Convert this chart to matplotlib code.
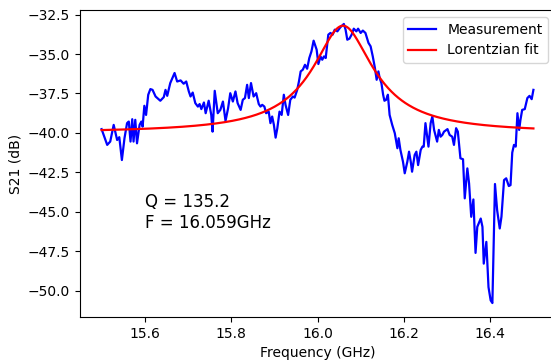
import numpy as np
import matplotlib
matplotlib.use("Agg")
import matplotlib.pyplot as plt

# measured transmission (GHz, dB)
freq = [15.500, 15.513, 15.520, 15.528, 15.536, 15.541, 15.547, 15.553, 15.559, 15.563,
        15.567, 15.571, 15.574, 15.578, 15.582, 15.588, 15.592, 15.595, 15.599, 15.603,
        15.608, 15.613, 15.618, 15.625, 15.636, 15.644, 15.648, 15.652, 15.659, 15.669,
        15.675, 15.683, 15.690, 15.696, 15.702, 15.706, 15.711, 15.717, 15.723, 15.727,
        15.731, 15.737, 15.741, 15.748, 15.754, 15.757, 15.762, 15.769, 15.775, 15.781,
        15.787, 15.793, 15.798, 15.804, 15.810, 15.815, 15.822, 15.827, 15.832, 15.837,
        15.841, 15.846, 15.852, 15.858, 15.864, 15.868, 15.872, 15.877, 15.881, 15.887,
        15.891, 15.895, 15.899, 15.903, 15.907, 15.912, 15.917, 15.922, 15.926, 15.932,
        15.937, 15.943, 15.947, 15.953, 15.957, 15.961, 15.966, 15.971, 15.976, 15.981,
        15.986, 15.991, 15.998, 16.002, 16.007, 16.011, 16.015, 16.019, 16.025, 16.030,
        16.035, 16.040, 16.046, 16.053, 16.061, 16.065, 16.069, 16.074, 16.079, 16.084,
        16.090, 16.094, 16.100, 16.105, 16.111, 16.118, 16.123, 16.128, 16.133, 16.137,
        16.141, 16.144, 16.148, 16.152, 16.155, 16.159, 16.163, 16.167, 16.173, 16.179,
        16.185, 16.188, 16.192, 16.198, 16.202, 16.208, 16.212, 16.216, 16.219, 16.225,
        16.229, 16.233, 16.239, 16.243, 16.246, 16.250, 16.257, 16.262, 16.266, 16.270,
        16.273, 16.277, 16.281, 16.285, 16.289, 16.293, 16.301, 16.306, 16.312, 16.316,
        16.321, 16.325, 16.331, 16.337, 16.341, 16.347, 16.351, 16.356, 16.361, 16.366,
        16.370, 16.378, 16.382, 16.385, 16.391, 16.396, 16.401, 16.405, 16.411, 16.416,
        16.422, 16.426, 16.432, 16.437, 16.443, 16.447, 16.451, 16.455, 16.459, 16.463,
        16.467, 16.470, 16.474, 16.480, 16.486, 16.491, 16.496, 16.500]
s21 = [-39.76, -40.76, -40.55, -39.49, -40.45, -40.27, -41.72, -40.34, -39.38, -39.28,
       -40.55, -39.13, -40.55, -39.17, -40.66, -39.49, -39.28, -39.60, -38.28, -38.86,
       -37.58, -37.22, -37.27, -37.69, -37.96, -37.73, -37.27, -37.65, -36.84, -36.20,
       -36.74, -36.67, -36.88, -36.74, -37.37, -37.69, -37.44, -38.11, -38.33, -38.17,
       -38.49, -38.07, -38.75, -37.96, -38.86, -39.92, -37.33, -38.75, -38.54, -38.01,
       -39.24, -38.43, -37.48, -38.01, -37.37, -38.11, -38.54, -37.90, -37.79, -36.95,
       -37.79, -36.84, -37.69, -37.48, -38.17, -38.33, -38.22, -38.33, -38.75, -38.65,
       -39.38, -38.96, -39.49, -40.30, -39.70, -38.65, -38.86, -37.58, -38.22, -38.86,
       -37.90, -37.69, -37.76, -37.27, -36.74, -36.10, -35.99, -35.68, -35.93, -35.25,
       -34.83, -34.15, -34.72, -35.63, -35.15, -35.36, -35.15, -35.25, -33.77, -33.66,
       -33.77, -33.45, -33.56, -33.30, -33.09, -33.45, -34.09, -34.02, -33.77, -33.39,
       -33.56, -33.39, -33.66, -33.51, -33.66, -34.29, -34.51, -35.15, -35.89, -36.63,
       -36.10, -36.52, -36.84, -37.58, -37.96, -37.90, -37.58, -38.86, -39.49, -40.02,
       -40.97, -40.34, -41.08, -41.83, -42.56, -41.83, -41.19, -41.83, -42.46, -41.40,
       -41.19, -42.04, -41.08, -40.87, -40.87, -39.38, -40.87, -39.38, -38.96, -39.81,
       -40.13, -40.55, -39.81, -40.24, -40.13, -39.92, -39.76, -40.13, -40.24, -40.76,
       -39.70, -39.92, -41.61, -41.67, -44.15, -42.25, -43.20, -45.32, -44.22, -47.61,
       -45.96, -45.43, -45.96, -48.29, -46.91, -49.78, -50.62, -50.79, -43.24, -44.90,
       -46.06, -45.32, -42.99, -42.88, -43.37, -43.31, -41.25, -40.76, -40.87, -38.75,
       -39.81, -39.17, -38.54, -38.49, -37.79, -37.65, -37.86, -37.27]

# fitted resonance parameters
Q = 135.2
F0 = 16.059          # GHz
base_db = -40.0
peak_db = -33.2

# Lorentzian in linear power, shown in dB
f_fit = np.linspace(freq[0], freq[-1], 500)
gamma = F0 / (2 * Q)
p_base = 10 ** (base_db / 10)
p_amp = 10 ** (peak_db / 10) - p_base
fit_db = 10 * np.log10(p_base + p_amp / (1 + ((f_fit - F0) / gamma) ** 2))

fig = plt.figure(figsize=(5.51, 3.6), dpi=100)
ax = fig.add_axes([80 / 551, 43 / 360, 475 / 551, 307 / 360])

ax.plot(freq, s21, color="b", lw=1.6, label="Measurement")
ax.plot(f_fit, fit_db, color="r", lw=1.6, label="Lorentzian fit")

ax.text(15.6, -46, "Q = %.1f\nF = %.3fGHz" % (Q, F0), fontsize=12)

ax.set_xlabel("Frequency (GHz)")
ax.set_ylabel("S21 (dB)")
ax.legend(loc="upper right")
# right edge of the frame falls outside the saved image
ax.spines["right"].set_visible(False)

fig.savefig("out.png", dpi=100)
